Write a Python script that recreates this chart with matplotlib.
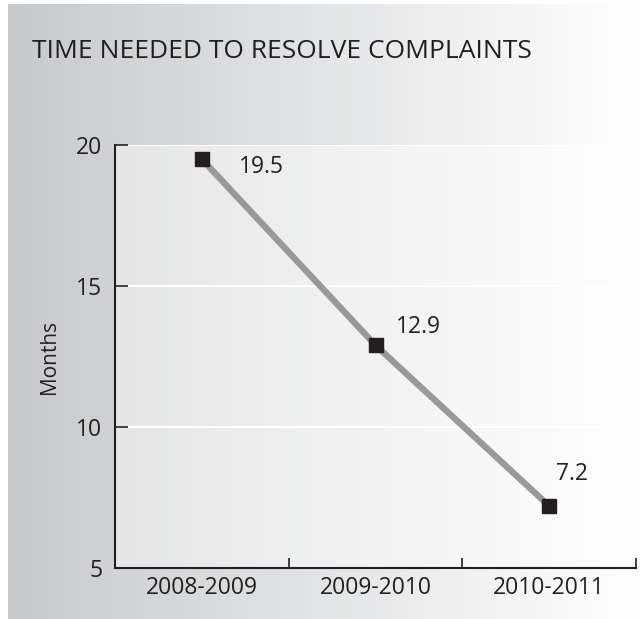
import matplotlib
matplotlib.use("Agg")
import matplotlib.pyplot as plt
import numpy as np
from matplotlib.colors import LinearSegmentedColormap
from matplotlib.patches import Rectangle

plt.rcParams['font.family'] = ['Open Sans', 'DejaVu Sans']

categories = ["2008-2009", "2009-2010", "2010-2011"]
values = [19.5, 12.9, 7.2]
value_labels = ["19.5", "12.9", "7.2"]
yticks = [5, 10, 15, 20]
title = "TIME NEEDED TO RESOLVE COMPLAINTS"
ylabel = "Months"

W, H = 642, 619
fig = plt.figure(figsize=(W / 100, H / 100), dpi=100)
fig.patch.set_facecolor("white")

# gradient background panel
bg = fig.add_axes([8 / W, 0, 1 - 8 / W, 1 - 4 / H])
bg.set_axis_off()
cmap = LinearSegmentedColormap.from_list("g", ["#c8c9cb", "#e4e5e6", "#ffffff"])
grad = np.linspace(0, 1, 256).reshape(1, -1)
bg.imshow(grad, aspect="auto", cmap=cmap, extent=[0, 1, 0, 1])
bg.set_xlim(0, 1)
bg.set_ylim(0, 1)

ax = fig.add_axes([115 / W, 1 - 568 / H, (636 - 115) / W, (568 - 145) / H])
ax.patch.set_alpha(0)
ax.add_patch(Rectangle((0, 0), 1, 1, transform=ax.transAxes, facecolor="white",
                       alpha=0.45, edgecolor="none", zorder=0))

x = np.arange(len(categories))
ax.plot(x, values, color="#999999", lw=4.6, solid_capstyle="butt", zorder=3)
ax.plot(x, values, ls="none", marker="s", ms=10, color="#231f20", zorder=4)

offsets = [(37, -8), (20, 18), (7, 32)]
for xi, v, lab, (dx, dy) in zip(x, values, value_labels, offsets):
    ax.annotate(lab, (xi, v), xytext=(dx, dy), textcoords="offset pixels",
                ha="left", va="center", fontsize=16.5, color="#231f20", zorder=5)

ax.set_xlim(-0.5, 2.5)
ax.set_ylim(5, 20)
ax.set_yticks(yticks)
ax.set_yticklabels([str(t) for t in yticks])
ax.set_xticks([0.5, 1.5, 2.5])
ax.set_xticklabels([])
ax.set_xticks(x, minor=True)
ax.set_xticklabels(categories, minor=True)
ax.tick_params(axis="x", which="minor", length=0, pad=6, labelsize=16.5, labelcolor="#231f20")
ax.tick_params(axis="x", which="major", direction="in", length=7.5, width=1.2, color="#231f20")
ax.tick_params(axis="y", direction="in", length=9, width=1.2, color="#231f20",
               labelsize=16.5, labelcolor="#231f20", pad=9)
ax.grid(axis="y", color="white", lw=1.5, zorder=1)
ax.set_axisbelow(True)
for s in ["top", "right"]:
    ax.spines[s].set_visible(False)
for s in ["left", "bottom"]:
    ax.spines[s].set_color("#231f20")
    ax.spines[s].set_linewidth(1.5)

ax.set_ylabel(ylabel, fontsize=15, color="#231f20", labelpad=12)

fig.text(32 / W, 1 - 52 / H, title, fontsize=19, color="#231f20",
         ha="left", va="center")

fig.savefig("out.png", dpi=100)
